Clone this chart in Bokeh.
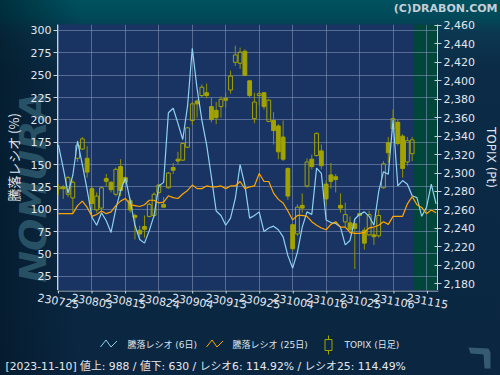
import math
from urllib.parse import quote
from bokeh.plotting import figure
from bokeh.models import (Range1d, LinearAxis, FixedTicker, NumeralTickFormatter, ColumnDataSource)
from bokeh.layouts import column
from bokeh.core.properties import value
from bokeh.embed import file_html
from bokeh.resources import INLINE

# ---------------- data ----------------
dates = ["230725", "230726", "230727", "230728", "230731",
         "230801", "230802", "230803", "230804", "230807", "230808", "230809", "230810",
         "230814", "230815", "230816", "230817", "230818", "230821", "230822", "230823",
         "230824", "230825", "230828", "230829", "230830", "230831",
         "230901", "230904", "230905", "230906", "230907", "230908", "230911", "230912",
         "230913", "230914", "230915", "230919", "230920", "230921", "230922", "230925",
         "230926", "230927", "230928", "230929",
         "231002", "231003", "231004", "231005", "231006", "231010", "231011", "231012",
         "231013", "231016", "231017", "231018", "231019", "231020", "231023", "231024",
         "231025", "231026", "231027", "231030", "231031",
         "231101", "231102", "231106", "231107", "231108", "231109", "231110",
         "231113", "231114", "231115", "231116", "231117"]

# TOPIX daily candles (75 trading days, 230725 .. 231110)
opens = [2283, 2285, 2277, 2273, 2316, 2326, 2316, 2283, 2260, 2262,
         2294, 2290, 2277, 2307, 2295, 2270, 2254, 2238, 2242, 2253,
         2254, 2279, 2266, 2284, 2306, 2315, 2314, 2328, 2357, 2378,
         2384, 2387, 2372, 2368, 2372, 2381, 2390, 2420, 2419, 2432,
         2400, 2359, 2384, 2387, 2356, 2357, 2351, 2339, 2305, 2244,
         2234, 2265, 2286, 2315, 2319, 2324, 2288, 2298, 2296, 2265,
         2247, 2246, 2245, 2256, 2238, 2233, 2233, 2232, 2284, 2333,
         2348, 2355, 2340, 2312, 2321]
highs = [2288, 2287, 2297, 2292, 2335, 2339, 2329, 2286, 2279, 2286,
         2299, 2291, 2306, 2315, 2297, 2273, 2256, 2243, 2254, 2268,
         2279, 2288, 2274, 2301, 2311, 2323, 2333, 2350, 2377, 2380,
         2396, 2397, 2382, 2377, 2383, 2387, 2411, 2438, 2436, 2434,
         2401, 2387, 2389, 2388, 2380, 2366, 2353, 2357, 2306, 2245,
         2266, 2278, 2316, 2320, 2344, 2331, 2292, 2311, 2299, 2278,
         2268, 2253, 2250, 2268, 2241, 2259, 2241, 2260, 2313, 2339,
         2369, 2358, 2342, 2339, 2339]
lows = [2276, 2272, 2274, 2257, 2312, 2325, 2295, 2261, 2257, 2259,
        2286, 2279, 2275, 2275, 2288, 2257, 2228, 2228, 2230, 2252,
        2252, 2277, 2263, 2283, 2299, 2310, 2313, 2327, 2352, 2360,
        2382, 2381, 2355, 2353, 2360, 2371, 2386, 2416, 2413, 2405,
        2382, 2354, 2373, 2369, 2355, 2331, 2315, 2313, 2271, 2216,
        2232, 2257, 2284, 2304, 2318, 2304, 2265, 2283, 2279, 2257,
        2241, 2234, 2196, 2246, 2217, 2232, 2222, 2230, 2283, 2311,
        2344, 2330, 2295, 2308, 2313]
closes = [2285, 2283, 2295, 2290, 2330, 2337, 2301, 2267, 2275, 2284,
          2291, 2282, 2304, 2281, 2290, 2260, 2252, 2234, 2239, 2266,
          2277, 2287, 2263, 2300, 2303, 2313, 2332, 2349, 2375, 2375,
          2393, 2384, 2358, 2360, 2380, 2379, 2405, 2428, 2431, 2406,
          2384, 2377, 2386, 2372, 2379, 2346, 2323, 2315, 2275, 2218,
          2263, 2262, 2312, 2307, 2343, 2308, 2272, 2291, 2293, 2262,
          2255, 2239, 2240, 2254, 2224, 2255, 2231, 2254, 2310, 2322,
          2359, 2332, 2305, 2335, 2336]

# advance/decline ratio (%)
ratio6 = [172, 146, 118, 138, 176, 150, 122, 91, 82, 96,
          87, 74, 100, 121, 135, 110, 82, 66, 62, 76,
          93, 126, 130, 208, 213, 196, 178, 215, 280, 235,
          200, 172, 136, 98, 93, 82, 90, 112, 150, 127,
          90, 93, 97, 75, 79, 81, 77, 69, 48, 34,
          52, 80, 97, 94, 146, 140, 88, 85, 84, 80,
          60, 65, 89, 94, 97, 92, 82, 120, 142, 139,
          200, 126, 132, 128, 115, 113, 92, 102, 128, 106]
ratio25 = [95, 95, 95, 95, 104, 109, 102, 92, 94, 98,
           95, 97, 104, 109, 112, 105, 104, 103, 105, 110,
           110, 107, 108, 115, 113, 112, 117, 121, 127, 123,
           123, 126, 125, 125, 126, 123, 126, 126, 131, 123,
           125, 126, 140, 131, 131, 118, 111, 107, 98, 88,
           93, 93, 92, 86, 82, 79, 77, 83, 86, 80,
           80, 74, 73, 73, 74, 79, 80, 82, 86, 83,
           92, 92, 92, 106, 114, 105, 102, 95, 99, 96]

ratio_ticks = list(range(25, 301, 25))
topix_ticks = list(range(2180, 2461, 20))
date_tick_step = 7

legend_labels = ["騰落レシオ (6日)", "騰落レシオ (25日)", "TOPIX (日足)"]
status_date = "2023-11-10"
status_up = 988
status_down = 630
status_r6 = 114.92
status_r25 = 114.49
copyright_text = "(C)DRABON.COM"
watermark_text = "NOMURA"

# ---------------- styles / layout constants ----------------
W, H = 500, 375
TOP_H = 14            # strip holding the copyright
FRAME_L, FRAME_R = 57, 62
FRAME_TOP, FRAME_BOT = 24, 290
MAIN_H = FRAME_BOT - TOP_H
X0, X1 = -0.2, 79.3

FRAME_BG = "#193462"
FUTURE_BG = "#01463a"
GRID = "#8a9ac0"
AXIS = "#c8d0e0"
TICKTXT = "#e2e6ee"
C6 = "#8ed2f2"
C25 = "#ffa500"
CANDLE_FILL = "#a3a300"
CANDLE_LINE = "#909000"
JP = "Noto Sans CJK JP"
SANS = "DejaVu Sans"
MIXED = "'DejaVu Sans', 'Noto Sans CJK JP'"

n_c = len(opens)
xs_c = list(range(n_c))
xs_r = list(range(len(ratio6)))
date_ticks = list(range(0, len(dates), date_tick_step))

# ---------------- top strip ----------------
p0 = figure(width=W, height=TOP_H, x_range=Range1d(0, W), y_range=Range1d(TOP_H, 0),
            x_axis_location=None, y_axis_location=None, min_border=0,
            output_backend="svg", toolbar_location=None)
p0.frame_align = False
p0.border_fill_alpha = 0
p0.background_fill_alpha = 0
p0.outline_line_color = None
p0.grid.visible = False
p0.text(x=[W - 3], y=[7.5], text=[copyright_text], text_font=value(SANS),
        text_font_style="bold", text_font_size="11px", text_color="#c6ced6",
        text_align="right", text_baseline="middle")

# ---------------- main chart ----------------
p = figure(width=W, height=MAIN_H, x_range=Range1d(X0, X1), y_range=Range1d(9, 306.7),
           x_axis_location=None,
           output_backend="svg", toolbar_location=None,
           min_border_left=FRAME_L, min_border_right=FRAME_R,
           min_border_top=FRAME_TOP - TOP_H, min_border_bottom=0)
p.extra_y_ranges = {"topix": Range1d(2172.7, 2461)}
p.border_fill_alpha = 0
p.background_fill_color = FRAME_BG
p.outline_line_color = None

last_x = n_c - 1
p.quad(left=[last_x + 0.35], right=[len(dates) + 5], bottom=[-100], top=[1000],
       fill_color=FUTURE_BG, line_color=None, level="image")

p.xgrid.ticker = FixedTicker(ticks=date_ticks)
p.ygrid.ticker = FixedTicker(ticks=ratio_ticks)
p.grid.grid_line_color = GRID
p.grid.grid_line_alpha = 0.55

ya = p.yaxis[0]
ya.ticker = FixedTicker(ticks=ratio_ticks)
ya.axis_label = "騰落レシオ (%)"
ya.axis_label_text_font = JP
ya.axis_label_text_font_size = "13px"
ya.axis_label_text_font_style = "normal"
ya.axis_label_text_color = TICKTXT
ya.axis_label_standoff = 5

ra = LinearAxis(y_range_name="topix", ticker=FixedTicker(ticks=topix_ticks),
                formatter=NumeralTickFormatter(format="0,0"))
ra.axis_label = "TOPIX (Pt)"
ra.axis_label_text_font = SANS
ra.axis_label_text_font_size = "12px"
ra.axis_label_text_font_style = "normal"
ra.axis_label_text_color = TICKTXT
ra.axis_label_standoff = 6
p.add_layout(ra, "right")

for ax in (ya, ra):
    ax.major_label_text_color = TICKTXT
    ax.major_label_text_font = SANS
    ax.major_label_text_font_size = "11px"
    ax.major_label_standoff = 2
    ax.axis_line_color = AXIS
    ax.major_tick_line_color = AXIS
    ax.minor_tick_line_color = None
ya.major_tick_out = 4
ya.major_tick_in = 0
ra.major_tick_out = 4
ra.major_tick_in = 3

body_top = [max(o, c) for o, c in zip(opens, closes)]
body_bot = [min(o, c) for o, c in zip(opens, closes)]
up = [c >= o for o, c in zip(opens, closes)]
src = ColumnDataSource(dict(x=xs_c, high=highs, low=lows, btop=body_top, bbot=body_bot,
                            fill=["rgba(0,0,0,0)" if u else CANDLE_FILL for u in up]))
p.segment(x0="x", y0="high", x1="x", y1="btop", source=src, line_color=CANDLE_LINE,
          line_width=1, y_range_name="topix")
p.segment(x0="x", y0="bbot", x1="x", y1="low", source=src, line_color=CANDLE_LINE,
          line_width=1, y_range_name="topix")
p.vbar(x="x", top="btop", bottom="bbot", width=0.8, source=src, fill_color="fill",
       line_color=CANDLE_FILL, line_width=1, y_range_name="topix")

p.line(xs_r, ratio6, line_color=C6, line_width=1.2)
p.line(xs_r, ratio25, line_color=C25, line_width=1.2)

# ---------------- bottom strip: date axis, legend, status ----------------
BOT_TOP = FRAME_BOT
BOT_H = H - BOT_TOP
spp = (X1 - X0) / (W - FRAME_L - FRAME_R)   # data units per pixel of the main frame
p2 = figure(width=W, height=BOT_H,
            x_range=Range1d(X0 - FRAME_L * spp, X1 + FRAME_R * spp),
            y_range=Range1d(H, BOT_TOP),
            x_axis_location=None, y_axis_location=None, min_border=0,
            output_backend="svg", toolbar_location=None)
p2.frame_align = False
p2.extra_x_ranges = {"px": Range1d(0, W)}
p2.border_fill_alpha = 0
p2.background_fill_alpha = 0
p2.outline_line_color = None
p2.grid.visible = False

# date axis line, ticks and rotated labels centred on the ticks
p2.segment(x0=[X0], y0=[BOT_TOP + 0.5], x1=[X1], y1=[BOT_TOP + 0.5], line_color=AXIS, line_width=1)
p2.segment(x0=date_ticks, y0=[BOT_TOP] * len(date_ticks), x1=date_ticks,
           y1=[BOT_TOP + 3] * len(date_ticks), line_color=AXIS, line_width=1)
p2.text(x=date_ticks, y=[BOT_TOP + 10.5] * len(date_ticks), text=[dates[i] for i in date_ticks],
        angle=-0.18, text_font=value(SANS), text_font_size="11px", text_color=TICKTXT,
        text_align="center", text_baseline="middle")

zig_dx = [0, 5.5, 10.5, 16.5]
zig_dy = [6.5, -0.5, 6.5, 0.5]
icon_x = [100, 206]
icon_y = 340
for x0, col in zip(icon_x, [C6, C25]):
    p2.line([x0 + d for d in zig_dx], [icon_y + d for d in zig_dy], line_color=col,
            line_width=1, x_range_name="px")
cx = 328
p2.segment(x0=[cx], y0=[335], x1=[cx], y1=[354], line_color=CANDLE_FILL, line_width=1,
           x_range_name="px")
p2.quad(left=[cx - 3.5], right=[cx + 3.5], top=[339], bottom=[350],
        fill_color="#0b2844", line_color=CANDLE_FILL, line_width=1, x_range_name="px")

p2.text(x=[127, 232, 344], y=[344, 344, 344], text=legend_labels,
        text_font=value(MIXED), text_font_size="9px", text_color="#dfe3ea",
        text_baseline="middle", text_align="left", x_range_name="px")

status = (f"[{status_date}]  値上: {status_up} / 値下: {status_down} / "
          f"レシオ6: {status_r6:.2f}% / レシオ25: {status_r25:.2f}%")
p2.text(x=[5], y=[366], text=[status], text_font=value(MIXED), text_font_size="10.8px",
        text_color="#e6e8ee", text_baseline="middle", text_align="left", x_range_name="px")

p2.patch([468, 488, 490, 490, 484, 483, 470], [347, 348, 352, 368, 368, 354, 353],
         fill_color="#355a72", line_color=None, x_range_name="px")

# ---------------- page background (gradient + watermark) ----------------
wm_svg = ("<svg xmlns='http://www.w3.org/2000/svg' width='500' height='375'>"
          "<text transform='translate(33 187) rotate(-90)' text-anchor='middle' "
          "dominant-baseline='central' font-family='DejaVu Sans' font-weight='bold' "
          "font-style='italic' font-size='38' fill='rgb(46,90,110)' fill-opacity='0.85'>"
          + watermark_text + "</text></svg>")
wm_url = 'url("data:image/svg+xml;charset=utf-8,' + quote(wm_svg) + '")'
bg = (wm_url + " 0 0 / 500px 375px no-repeat, "
      "linear-gradient(90deg, rgba(0,20,32,0.55) 0px, rgba(0,20,32,0) 80px), "
      "linear-gradient(180deg, #00525f 0px, #004a5a 16px, #0c3650 34px, "
      "#0b2b46 70px, #0a2641 100%)")

layout = column(p0, p, p2, spacing=0, styles={"background": bg})

open("out.html", "w").write(file_html(layout, INLINE))
